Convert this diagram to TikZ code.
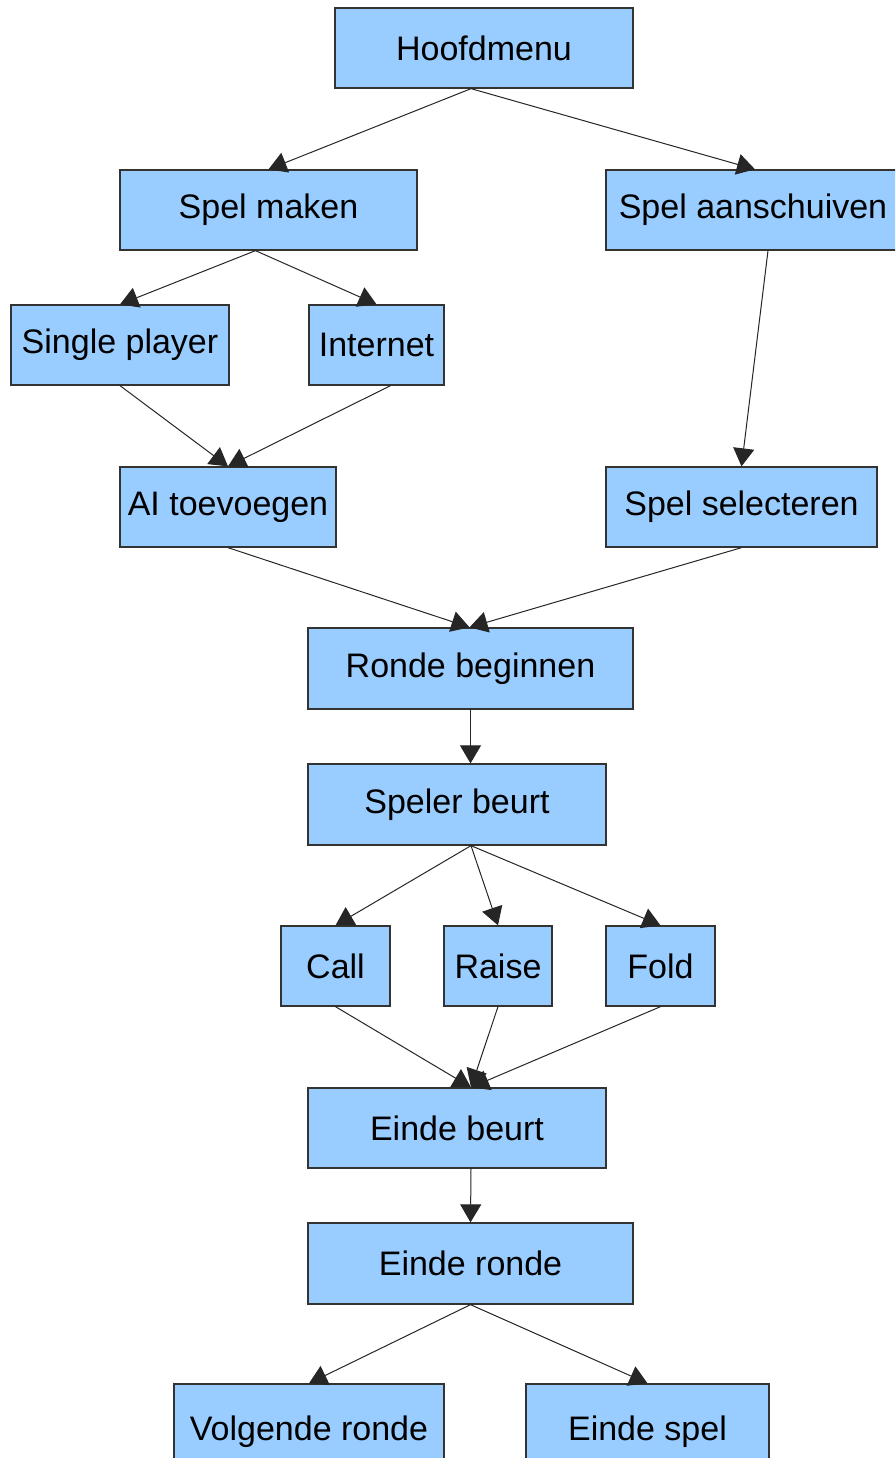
\documentclass[tikz,border=0pt]{standalone}
\usepackage{fontspec}
\setmainfont{Liberation Sans}
\usetikzlibrary{arrows.meta}
\definecolor{boxfill}{HTML}{99CCFF}
\definecolor{boxline}{HTML}{333333}
\begin{document}
\begin{tikzpicture}[x=1pt,y=-1pt,
  box/.style={draw=boxline,line width=1.3pt,fill=boxfill,inner sep=0pt,
    font=\fontsize{34}{40}\selectfont},
  conn/.style={draw=black!85,line width=1pt,
    -{Triangle[length=18pt,width=21pt]}}]
\useasboundingbox (0,0) rectangle (895,1458);
\clip (0,0) rectangle (895,1458);
\fill[white] (0,0) rectangle (895,1458);
\newcommand\bx[6]{\node[box,minimum width=#4-#3,minimum height=#6-#5] (#1) at ({(#3+#4)/2},{(#5+#6)/2}) {#2};}
\bx{hm}{Hoofdmenu}{335}{633}{8}{88}
\bx{sm}{Spel maken}{120}{417}{170}{250}
\bx{sa}{Spel aanschuiven}{606}{900}{170}{250}
\bx{sp}{Single player}{11}{229}{305}{385}
\bx{in}{Internet}{309}{444}{305}{385}
\bx{ai}{AI toevoegen}{120}{336}{467}{547}
\bx{ss}{Spel selecteren}{606}{877}{467}{547}
\bx{rb}{Ronde beginnen}{308}{633}{628}{709}
\bx{sb}{Speler beurt}{308}{606}{764}{845}
\bx{ca}{Call}{281}{390}{926}{1006}
\bx{ra}{Raise}{444}{552}{926}{1006}
\bx{fo}{Fold}{606}{715}{926}{1006}
\bx{eb}{Einde beurt}{308}{606}{1088}{1168}
\bx{er}{Einde ronde}{308}{633}{1223}{1304}
\bx{vr}{Volgende ronde}{174}{444}{1384}{1480}
\bx{es}{Einde spel}{526}{769}{1384}{1480}
% connectors
\draw[conn] ([xshift=-13pt]hm.south) -- ([xshift=0pt]sm.north);
\draw[conn] ([xshift=-13pt]hm.south) -- ([xshift=2pt]sa.north);
\draw[conn] ([xshift=-13pt]sm.south) -- (sp.north);
\draw[conn] ([xshift=-13pt]sm.south) -- ([xshift=0pt]in.north);
\draw[conn] ([xshift=15pt]sa.south) -- ([xshift=0pt]ss.north);
\draw[conn] (sp.south) -- (ai.north);
\draw[conn] ([xshift=14pt]in.south) -- (ai.north);
\draw[conn] (ai.south) -- ([xshift=-1pt]rb.north);
\draw[conn] (ss.south) -- ([xshift=-1pt]rb.north);
\draw[conn] ([xshift=0pt]rb.south) -- ([xshift=13.5pt]sb.north);
\draw[conn] ([xshift=14pt]sb.south) -- (ca.north);
\draw[conn] ([xshift=14pt]sb.south) -- (ra.north);
\draw[conn] ([xshift=14pt]sb.south) -- (fo.north);
\draw[conn] (ca.south) -- ([xshift=14pt]eb.north);
\draw[conn] (ra.south) -- ([xshift=14pt]eb.north);
\draw[conn] (fo.south) -- ([xshift=14pt]eb.north);
\draw[conn] ([xshift=14pt]eb.south) -- ([xshift=0pt]er.north);
\draw[conn] ([xshift=0pt]er.south) -- (vr.north);
\draw[conn] ([xshift=0pt]er.south) -- (es.north);
\end{tikzpicture}
\end{document}
